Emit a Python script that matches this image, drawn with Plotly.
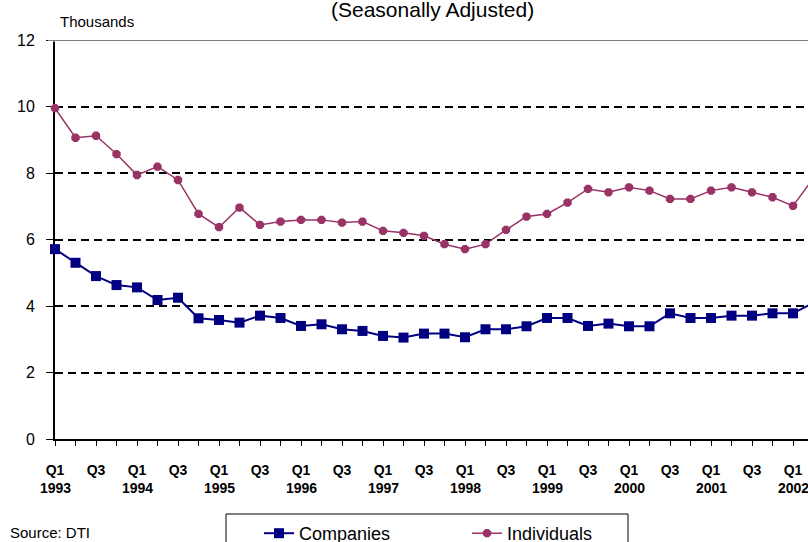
import plotly.graph_objects as go

# ---- data ----
quarter_index = list(range(38))  # Q1 1993 ... Q2 2002
quarter_labels = ["Q1" if i % 4 == 0 else ("Q3" if i % 4 == 2 else "") for i in quarter_index]
year_labels = ["1993", "1994", "1995", "1996", "1997", "1998", "1999", "2000", "2001", "2002"]
year_positions = [0, 4, 8, 12, 16, 20, 24, 28, 32, 36]

companies = [5.71, 5.30, 4.90, 4.63, 4.56, 4.18, 4.25, 3.63, 3.58, 3.50,
             3.71, 3.64, 3.40, 3.45, 3.30, 3.25, 3.10, 3.05, 3.17, 3.17,
             3.06, 3.30, 3.30, 3.39, 3.64, 3.64, 3.40, 3.47, 3.39, 3.39,
             3.78, 3.64, 3.64, 3.71, 3.71, 3.78, 3.78, 4.10]
individuals = [9.95, 9.06, 9.12, 8.57, 7.94, 8.19, 7.79, 6.77, 6.37, 6.96,
               6.44, 6.54, 6.59, 6.59, 6.51, 6.54, 6.26, 6.20, 6.11, 5.86,
               5.71, 5.86, 6.29, 6.69, 6.77, 7.11, 7.52, 7.42, 7.57, 7.47,
               7.22, 7.22, 7.47, 7.57, 7.42, 7.27, 7.01, 7.85]
y_ticks = [0, 2, 4, 6, 8, 10, 12]

FONT = "Liberation Sans, Arial, sans-serif"
W, H = 808, 542
L, R, T, B = 55, 0, 40, 103
PW, PH = W - L - R, H - T - B

def px_x(x):
    return (x - L) / PW

def px_y(y):
    return (H - B - y) / PH

fig = go.Figure()
fig.add_trace(go.Scatter(
    x=quarter_index, y=companies, name="Companies", mode="lines+markers",
    line=dict(color="#000080", width=2),
    marker=dict(symbol="square", size=10, color="#000080"),
    cliponaxis=False))
fig.add_trace(go.Scatter(
    x=quarter_index, y=individuals, name="Individuals", mode="lines+markers",
    line=dict(color="#993366", width=1.5),
    marker=dict(symbol="octagon", size=9, color="#993366"),
    cliponaxis=False))

annotations = []
for pos, yr in zip(year_positions, year_labels):
    annotations.append(dict(x=pos, xref="x", y=px_y(488), yref="paper", text="<b>%s</b>" % yr,
                            showarrow=False, xanchor="center", yanchor="middle",
                            font=dict(family=FONT, size=14, color="black")))
annotations.append(dict(x=px_x(432), y=px_y(10), xref="paper", yref="paper",
                        text="(Seasonally Adjusted)", showarrow=False,
                        xanchor="center", yanchor="middle",
                        font=dict(family=FONT, size=21, color="black")))
annotations.append(dict(x=px_x(58), y=px_y(22), xref="paper", yref="paper",
                        text="Thousands", showarrow=False,
                        xanchor="left", yanchor="middle",
                        font=dict(family=FONT, size=15, color="black")))
annotations.append(dict(x=px_x(8), y=px_y(532), xref="paper", yref="paper",
                        text="Source: DTI", showarrow=False,
                        xanchor="left", yanchor="middle",
                        font=dict(family=FONT, size=15, color="black")))

shapes = [
    dict(type="line", xref="paper", yref="y", x0=px_x(48), x1=1, y0=12, y1=12,
         line=dict(color="white", width=3), layer="above"),
    dict(type="line", xref="paper", yref="y", x0=px_x(48), x1=1, y0=12, y1=12,
         line=dict(color="black", width=1), layer="above"),
    dict(type="rect", xref="paper", yref="paper", x0=px_x(226), x1=px_x(628),
         y0=px_y(560), y1=px_y(514), line=dict(color="black", width=1),
         fillcolor="rgba(0,0,0,0)"),
]

fig.update_layout(
    width=W, height=H,
    margin=dict(l=L, r=R, t=T, b=B, pad=0, autoexpand=False),
    paper_bgcolor="white", plot_bgcolor="white",
    font=dict(family=FONT, color="black"),
    showlegend=True,
    legend=dict(orientation="h", x=px_x(259), y=px_y(515), xanchor="left", yanchor="top",
                bgcolor="rgba(0,0,0,0)", borderwidth=0,
                font=dict(family=FONT, size=18, color="black"),
                entrywidth=163, entrywidthmode="pixels"),
    annotations=annotations,
    shapes=shapes,
    xaxis=dict(range=[0, PW / 20.5], tickmode="array", tickvals=quarter_index,
               ticktext=["<b>%s</b>" % t if t else "" for t in quarter_labels],
               ticks="outside", ticklen=5, tickwidth=1,
               tickcolor="black", showline=True, linecolor="black", linewidth=2,
               showgrid=False, zeroline=False, layer="below traces",
               tickfont=dict(family=FONT, size=14, color="black"),
               ticklabelstandoff=12, fixedrange=True, automargin=False),
    yaxis=dict(range=[0, 12], tickmode="array", tickvals=y_ticks,
               ticks="outside", ticklen=7, tickwidth=1, tickcolor="black",
               showline=True, linecolor="black", linewidth=2,
               showgrid=True, gridcolor="black", gridwidth=2, griddash="8px,5px",
               zeroline=False, layer="below traces",
               tickfont=dict(family=FONT, size=16, color="black"),
               ticklabelstandoff=8, fixedrange=True, automargin=False),
)

fig.write_html("out.html", config={"displayModeBar": False},
               post_script="document.body.style.margin='0';document.body.style.padding='0';")
